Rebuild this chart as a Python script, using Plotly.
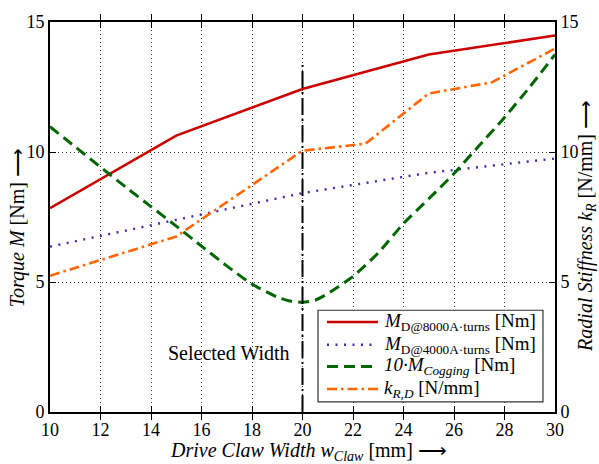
import plotly.graph_objects as go

# ---- data ----
width_coarse = [10, 15, 20, 25, 30]
m_8000 = [7.84, 10.63, 12.42, 13.75, 14.48]
m_4000 = [6.36, 7.40, 8.42, 9.20, 9.75]

width_fine = [10, 11, 12, 13, 14, 15, 16, 17, 18, 19, 19.5, 20, 20.5, 21, 22, 23, 24, 25, 26, 27, 28, 29, 30]
m_cogging10 = [10.97, 10.2, 9.42, 8.65, 7.9, 7.15, 6.38, 5.62, 4.92, 4.42, 4.27, 4.22, 4.3, 4.55, 5.22, 6.12, 7.25, 8.2, 9.17, 10.25, 11.33, 12.5, 13.75]

width_k = [10, 15, 20, 22.5, 25, 27.5, 30]
k_rd = [5.24, 6.75, 10.05, 10.32, 12.25, 12.68, 13.98]

selected_width = [20, 20]
selected_span = [0, 13.5]

x_ticks = [10, 12, 14, 16, 18, 20, 22, 24, 26, 28, 30]
y_ticks = [0, 5, 10, 15]

series_names = [
    "<i>M</i><sub>D@8000A·turns</sub> [Nm]",
    "<i>M</i><sub>D@4000A·turns</sub> [Nm]",
    "<i>10·M<sub>Cogging</sub></i> [Nm]",
    "<i>k<sub>R,D</sub></i> [N/mm]",
]

FONT = "Liberation Serif, Times New Roman, serif"

styles = [
    dict(color="#CC0000", width=2.6, dash="solid"),
    dict(color="#3333AA", width=2.4, dash="2px,6.5px"),
    dict(color="#006600", width=3, dash="11px,6px"),
    dict(color="#FF6600", width=2.6, dash="10px,4px,2.5px,4px"),
]

fig = go.Figure()
fig.add_trace(go.Scatter(x=width_coarse, y=m_8000, mode="lines",
    line=styles[0], name=series_names[0], showlegend=False))
fig.add_trace(go.Scatter(x=width_coarse, y=m_4000, mode="lines",
    line=styles[1], name=series_names[1], showlegend=False))
fig.add_trace(go.Scatter(x=width_fine, y=m_cogging10, mode="lines",
    line=dict(**styles[2], shape="spline", smoothing=0.6),
    name=series_names[2], showlegend=False))
fig.add_trace(go.Scatter(x=width_k, y=k_rd, mode="lines", yaxis="y2",
    line=styles[3], name=series_names[3], showlegend=False))
fig.add_trace(go.Scatter(x=selected_width, y=selected_span, mode="lines",
    line=dict(color="black", width=2, dash="17px,4px,2px,4px"),
    showlegend=False, hoverinfo="skip"))

axis_common = dict(
    showline=True, linecolor="black", linewidth=2,
    ticks="inside", ticklen=6, tickcolor="black", tickwidth=1,
    tickfont=dict(family=FONT, size=18, color="black"),
    zeroline=False,
)

# ---- hand-built legend (box, samples, labels) ----
shapes = [dict(type="rect", xref="paper", yref="paper",
               x0=0.5307, x1=0.9762, y0=0.026, y1=0.2609,
               line=dict(color="#333", width=1.2), fillcolor="white", layer="above")]
annotations = []
row_y = [0.2306, 0.1725, 0.1169, 0.0588]
for st, name, ry in zip(styles, series_names, row_y):
    shapes.append(dict(type="line", xref="paper", yref="paper",
                       x0=0.5485, x1=0.6495, y0=ry, y1=ry,
                       line=dict(color=st["color"], width=st["width"], dash=st["dash"]),
                       layer="above"))
    annotations.append(dict(text=name, xref="paper", yref="paper",
                            x=0.6574, y=ry, xanchor="left", yanchor="middle",
                            showarrow=False, font=dict(family=FONT, size=19)))

annotations += [
    dict(text="<i>Drive Claw Width w<sub>Claw</sub></i> [mm] ⟶",
         xref="paper", yref="paper", x=0.5125, y=-0.1003, xanchor="center", yanchor="middle",
         showarrow=False, font=dict(family=FONT, size=20)),
    dict(text="<i>Torque M</i> [Nm] ⟶",
         xref="paper", yref="paper", x=-0.0638, y=0.473, xanchor="center", yanchor="middle",
         textangle=-90, showarrow=False, font=dict(family=FONT, size=20)),
    dict(text="<i>Radial Stiffness k<sub>R</sub></i> [N/mm] ⟶",
         xref="paper", yref="paper", x=1.062, y=0.478, xanchor="center", yanchor="middle",
         textangle=-90, showarrow=False, font=dict(family=FONT, size=20)),
    dict(text="Selected Width", x=17.08, y=2.28, xref="x", yref="y",
         xanchor="center", yanchor="middle", showarrow=False,
         font=dict(family=FONT, size=20)),
]

fig.update_layout(
    width=599, height=464,
    margin=dict(l=50, r=44, t=16, b=52),
    paper_bgcolor="white", plot_bgcolor="white",
    font=dict(family=FONT, size=16, color="black"),
    xaxis=dict(range=[10, 30], tickvals=x_ticks, mirror="allticks",
               showgrid=True, gridcolor="#333", griddash="1px,3px", gridwidth=1,
               **axis_common),
    yaxis=dict(range=[0, 15], tickvals=y_ticks, mirror=False,
               showgrid=True, gridcolor="#333", griddash="1px,3px", gridwidth=1,
               **axis_common),
    yaxis2=dict(range=[0, 15], tickvals=y_ticks, overlaying="y", side="right",
                showgrid=False, **axis_common),
    showlegend=False,
    shapes=shapes,
    annotations=annotations,
)

fig.write_html("out.html")
